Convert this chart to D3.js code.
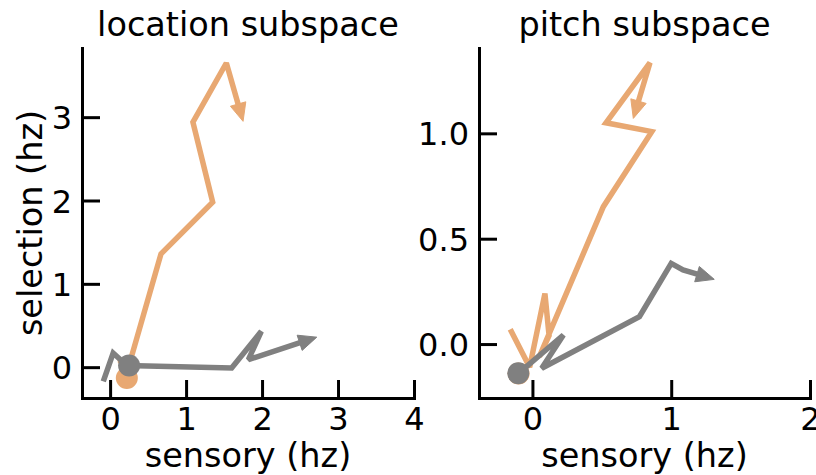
<!DOCTYPE html>
<html>
<head>
<meta charset="utf-8">
<script src="https://cdn.jsdelivr.net/npm/d3@7"></script>
<style>
  body { margin: 0; background: #fff; }
  svg { display: block; font-family: "DejaVu Sans", sans-serif; }
</style>
</head>
<body>
<svg id="chart" width="816" height="475"></svg>
<script>
// trajectories, [sensory, selection] in hz
const locOrange = [[0.10, 0.08], [0.27, 0.09], [0.67, 1.36], [1.35, 1.98], [1.09, 2.94], [1.53, 3.65], [1.75, 2.95]];
const locOrangeStart = [0.22, -0.13];
const locGray = [[-0.09, -0.17], [0.04, 0.17], [0.22, 0.02], [1.60, -0.01], [1.99, 0.43], [1.82, 0.09], [2.72, 0.36]];
const locGrayStart = [0.25, 0.02];

const pitchOrange = [[-0.16, 0.07], [-0.02, -0.11], [0.09, 0.24], [0.12, 0.04], [0.05, -0.06], [0.511, 0.652], [0.86, 1.008], [0.53, 1.05], [0.847, 1.335], [0.727, 1.071]];
const pitchOrangeStart = [-0.10, -0.14];
const pitchGray = [[-0.10, -0.139], [0.223, 0.043], [0.067, -0.115], [0.771, 0.13], [1.0, 0.383], [1.085, 0.352], [1.31, 0.307]];
const pitchGrayStart = [-0.102, -0.139];

const locXTicks = [0, 1, 2, 3, 4];
const locYTicks = [0, 1, 2, 3];
const pitchXTicks = [0, 1, 2];
const pitchYTicks = [0, 0.5, 1.0];

const orange = "#e8a872";
const gray = "#808080";

const svg = d3.select("#chart");

function panel(opts) {
  const g = svg.append("g");
  const x = d3.scaleLinear().domain(opts.xDomain).range([opts.left, opts.right]);
  const y = d3.scaleLinear().domain(opts.yDomain).range([398, 48]);

  // inward ticks, no outer tick
  const xAxis = g.append("g")
    .attr("transform", "translate(0,398)")
    .call(d3.axisBottom(x).tickValues(opts.xTicks).tickFormat(d3.format("d"))
      .tickSizeInner(-18).tickSizeOuter(0).tickPadding(0));
  const yAxis = g.append("g")
    .attr("transform", "translate(" + opts.left + ",0)")
    .call(d3.axisLeft(y).tickValues(opts.yTicks).tickFormat(opts.yFormat)
      .tickSizeInner(-18).tickSizeOuter(0).tickPadding(0));

  [xAxis, yAxis].forEach(a => {
    a.select(".domain").attr("stroke", "#000").attr("stroke-width", 3).attr("stroke-linecap", "square");
    a.selectAll(".tick line").attr("stroke", "#000").attr("stroke-width", 3);
    a.selectAll(".tick text").attr("font-size", 32).attr("fill", "#000")
      .attr("font-family", "DejaVu Sans");
  });
  xAxis.selectAll(".tick text").attr("dy", null).attr("y", 31.5);
  yAxis.selectAll(".tick text").attr("dy", "0.36em").attr("x", -10);

  g.append("text")
    .attr("x", (opts.left + opts.right) / 2).attr("y", 36)
    .attr("text-anchor", "middle").attr("font-size", 33.5).attr("fill", "#000")
    .text(opts.title);
  g.append("text")
    .attr("x", (opts.left + opts.right) / 2).attr("y", 467)
    .attr("text-anchor", "middle").attr("font-size", 33.5).attr("fill", "#000")
    .text("sensory (hz)");
  if (opts.yLabel) {
    g.append("text")
      .attr("transform", "translate(42,223) rotate(-90)")
      .attr("text-anchor", "middle").attr("font-size", 33.5).attr("fill", "#000")
      .text(opts.yLabel);
  }

  const plot = g.append("g");
  opts.series.forEach(s => {
    trajectory(plot, x, y, s.pts, s.color);
    plot.append("circle")
      .attr("cx", x(s.start[0])).attr("cy", y(s.start[1]))
      .attr("r", 11).attr("fill", s.color);
  });
}

// line through points with a filled arrow head at the last one
function trajectory(g, x, y, pts, color) {
  const p = pts.map(d => [x(d[0]), y(d[1])]);
  const n = p.length;
  const tip = p[n - 1], prev = p[n - 2];
  const dx = tip[0] - prev[0], dy = tip[1] - prev[1];
  const len = Math.hypot(dx, dy);
  const ux = dx / len, uy = dy / len;
  const headLen = 18, headW = 8;
  const base = [tip[0] - ux * headLen, tip[1] - uy * headLen];
  const line = p.slice(0, n - 1).concat([[tip[0] - ux * (headLen - 2), tip[1] - uy * (headLen - 2)]]);

  g.append("path")
    .attr("d", d3.line()(line))
    .attr("fill", "none")
    .attr("stroke", color)
    .attr("stroke-width", 5.5)
    .attr("stroke-linejoin", "miter")
    .attr("stroke-miterlimit", 2);
  g.append("path")
    .attr("d", d3.line()([
      tip,
      [base[0] - uy * headW, base[1] + ux * headW],
      [base[0] + uy * headW, base[1] - ux * headW]
    ]) + "Z")
    .attr("fill", color)
    .attr("stroke", color)
    .attr("stroke-width", 1);
}

panel({
  title: "location subspace", yLabel: "selection (hz)",
  left: 82, right: 414,
  xDomain: [-0.37, 4.0], yDomain: [-0.37, 3.83],
  xTicks: locXTicks, yTicks: locYTicks, yFormat: d3.format("d"),
  series: [
    { pts: locOrange, start: locOrangeStart, color: orange },
    { pts: locGray, start: locGrayStart, color: gray }
  ]
});

panel({
  title: "pitch subspace",
  left: 479, right: 810,
  xDomain: [-0.385, 2.0], yDomain: [-0.256, 1.405],
  xTicks: pitchXTicks, yTicks: pitchYTicks, yFormat: d3.format(".1f"),
  series: [
    { pts: pitchOrange, start: pitchOrangeStart, color: orange },
    { pts: pitchGray, start: pitchGrayStart, color: gray }
  ]
});
</script>
</body>
</html>
